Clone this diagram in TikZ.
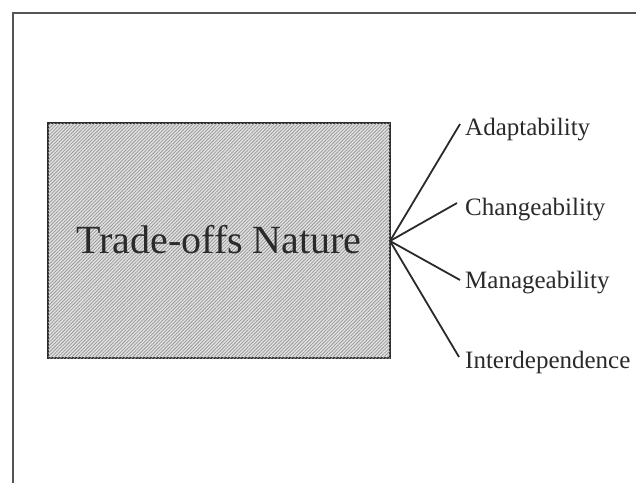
\documentclass[tikz,border=0pt]{standalone}
\usepackage{fontspec}
\setmainfont{Liberation Serif}
\usetikzlibrary{patterns.meta}
\definecolor{ink}{HTML}{2A2A2A}
\begin{document}
\begin{tikzpicture}[x=1pt,y=-1pt,
  frameline/.style={draw=ink!80, line width=2.2pt},
  hatchbox/.style={draw=ink, line width=1.4pt, fill=gray!22,
    postaction={pattern={Lines[angle=45,distance=2.4pt,line width=0.8pt]},
      pattern color=gray!80}},
  bigtext/.style={font=\fontsize{40}{42}\selectfont, text=ink},
  label/.style={anchor=base west, inner sep=0pt, font=\fontsize{25}{27}\selectfont, text=ink},
  spoke/.style={draw=ink, line width=1.8pt}]
\useasboundingbox (0,0) rectangle (636,483);
% outer frame, open to the right and below
\draw[frameline] (636,13) -- (13,13) -- (13,483);
% the hatched box
\path[hatchbox] (48,123) rectangle (390,358);
\node[bigtext, anchor=base] (nature) at (219,253) {Trade-offs Nature};
\coordinate (hub) at (390,241);
% labels
\node[label] (a) at (465,135) {Adaptability};
\node[label] (c) at (465,215) {Changeability};
\node[label] (m) at (465,288) {Manageability};
\node[label] (i) at (465,368) {Interdependence};
\coordinate (ae) at (460,124);
\coordinate (ce) at (457,203);
\coordinate (me) at (460,280);
\coordinate (ie) at (459,357);
\draw[spoke] (hub) -- (ae);
\draw[spoke] (hub) -- (ce);
\draw[spoke] (hub) -- (me);
\draw[spoke] (hub) -- (ie);
\end{tikzpicture}
\end{document}
